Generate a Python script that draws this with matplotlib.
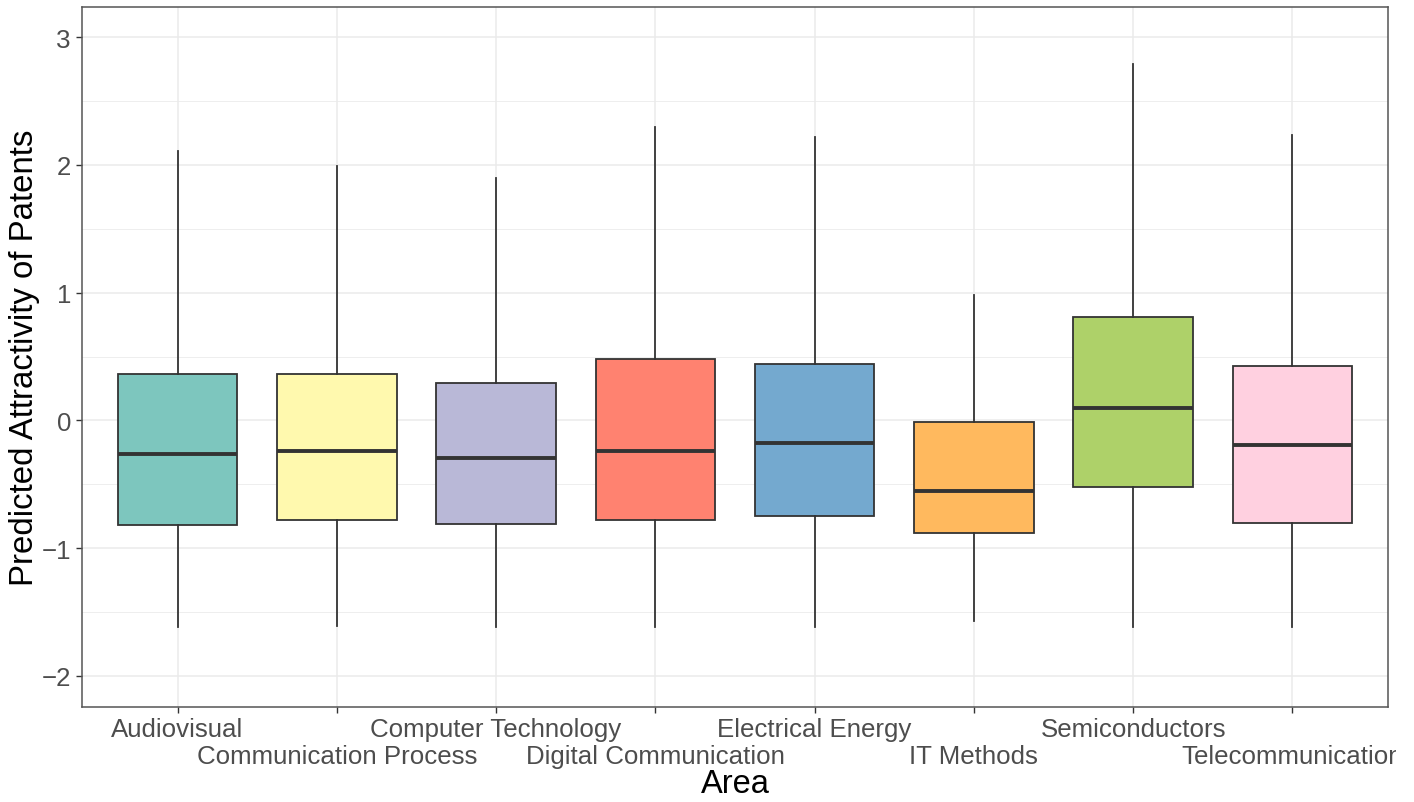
import matplotlib
matplotlib.use("Agg")
import matplotlib.pyplot as plt
from matplotlib.patches import Rectangle
from matplotlib.ticker import MultipleLocator, FixedLocator

plt.rcParams["font.family"] = ["Liberation Sans", "DejaVu Sans"]

areas = ["Audiovisual", "Communication Process", "Computer Technology",
         "Digital Communication", "Electrical Energy", "IT Methods",
         "Semiconductors", "Telecommunication"]
whisker_low = [-1.62, -1.61, -1.62, -1.62, -1.62, -1.57, -1.62, -1.62]
q1 = [-0.82, -0.78, -0.81, -0.78, -0.75, -0.885, -0.525, -0.80]
median = [-0.265, -0.24, -0.295, -0.24, -0.18, -0.55, 0.10, -0.195]
q3 = [0.365, 0.36, 0.29, 0.48, 0.44, -0.015, 0.81, 0.425]
whisker_high = [2.105, 1.99, 1.90, 2.30, 2.22, 0.98, 2.79, 2.23]
fill_colors = ["#7DC6BE", "#FFF9AE", "#B9B8D7", "#FF8270",
               "#74A9CF", "#FFB95E", "#AED169", "#FFD0E0"]

fig = plt.figure(figsize=(14.14, 8.03), dpi=100)
ax = fig.add_axes([0.058, 0.1183, 0.9236, 0.8717])

stats = []
for name, lo, a, m, b, hi in zip(areas, whisker_low, q1, median, q3, whisker_high):
    stats.append(dict(label=name, whislo=lo, q1=a, med=m, q3=b, whishi=hi, fliers=[]))

positions = list(range(1, len(areas) + 1))
art = ax.bxp(stats, positions=positions, widths=0.75, patch_artist=True,
             showcaps=False, showfliers=False,
             boxprops=dict(edgecolor="#333333", linewidth=1.3),
             whiskerprops=dict(color="#333333", linewidth=1.3),
             medianprops=dict(color="#333333", linewidth=2.8, solid_capstyle="butt"),
             zorder=3)
for patch, c in zip(art["boxes"], fill_colors):
    patch.set_facecolor(c)

ax.set_xlim(0.4, len(areas) + 0.6)
ax.set_ylim(-2.243, 3.235)

# y axis: major and minor grid
ax.yaxis.set_major_locator(MultipleLocator(1))
ax.yaxis.set_minor_locator(MultipleLocator(0.5))
ax.set_yticks([-2, -1, 0, 1, 2, 3], ["\u22122", "\u22121", "0", "1", "2", "3"])
ax.yaxis.grid(True, which="major", color="#EBEBEB", linewidth=1.1)
ax.yaxis.grid(True, which="minor", color="#EBEBEB", linewidth=0.6)
ax.tick_params(axis="y", which="minor", length=0)

# x axis: labels alternate between two rows
ax.xaxis.set_major_locator(FixedLocator(positions[0::2]))
ax.xaxis.set_minor_locator(FixedLocator(positions[1::2]))
ax.set_xticklabels(areas[0::2])
ax.set_xticklabels(areas[1::2], minor=True)
ax.xaxis.grid(True, which="both", color="#EBEBEB", linewidth=1.1)
ax.set_axisbelow(True)

ax.tick_params(axis="both", which="both", colors="#333333", labelcolor="#4D4D4D",
               labelsize=18.6, width=1.0)
ax.tick_params(axis="x", which="major", length=4, pad=3)
ax.tick_params(axis="x", which="minor", length=4, pad=22.5)
ax.tick_params(axis="y", which="major", length=4, pad=4)

for s in ax.spines.values():
    s.set_color("#555555")
    s.set_linewidth(1.1)

ax.set_xlabel("Area", fontsize=23.5, labelpad=0)
ax.set_ylabel("Predicted Attractivity of Patents", fontsize=23.8, labelpad=1)

# the plotting device cuts off text running past its right margin
fig.patches.append(Rectangle((1396 / 1414, 0), 1, 1, transform=fig.transFigure,
                             facecolor="white", edgecolor="none", zorder=10))

fig.savefig("out.png", dpi=100)
